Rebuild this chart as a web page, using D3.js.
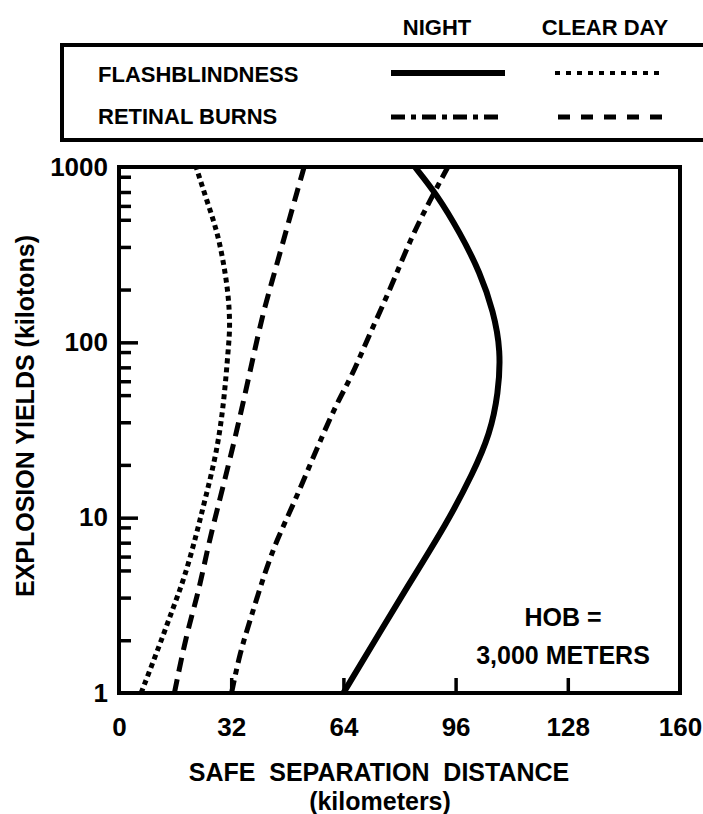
<!DOCTYPE html>
<head>
  <meta charset="utf-8">
  <script src="https://d3js.org/d3.v7.min.js"></script>
  <style>
    body { margin:0; background:#fff; }
    text { font-family: "Liberation Sans", Arial, sans-serif; font-weight: bold; fill: #000; }
  </style>
</head>

<body>
  <svg width="703" height="814" id="vis"></svg>
<script>
  // [yield kt, distance km]
  var flashNight = [[1,64],[2.4,75.4],[4.6,84],[9.3,93.5],[18,101],[30,105.8],[51,108.2],[90,108.9],[150,106.8],[250,103],[420,97.3],[700,90.6],[1000,84.4]];
  var flashDay = [[1,6.3],[1.9,11.7],[2.9,15],[4.6,18.8],[8.2,22.2],[12.6,24.5],[24,28],[47,30],[94,31.2],[123,31.7],[190,31.2],[294,29.7],[436,27.9],[647,25],[1000,22]];
  var burnsNight = [[1,32.1],[1.7,34.5],[2.6,37.4],[4.6,41.2],[7.5,45],[11.8,49.7],[25,56.5],[45,62.1],[64,66.4],[113,71.6],[199,77.3],[383,83],[646,88.7],[1000,93.8]];
  var burnsDay = [[1,15.8],[2.2,19.3],[3.7,22.6],[6.3,25],[10,27.4],[30,33.5],[103,39.3],[160,41.6],[236,44],[350,46.4],[567,49.3],[1000,52.8]];

  var xLabels = [0, 32, 64, 96, 128, 160];
  var xTicks = [32, 64, 96, 128];
  var yLabels = [1, 10, 100, 1000];
  var yMajor = [10, 100];
  var minorSteps = [2, 3.5, 5, 6, 7.2, 8.8];
  var decades = [1, 10, 100];

  var svg = d3.select("#vis");
  var x = d3.scaleLinear().domain([0, 160]).range([119, 680]);
  var y = d3.scaleLog().domain([1, 1000]).range([693, 167]);

  var yMinor = [];
  decades.forEach(function(d) { minorSteps.forEach(function(m) { yMinor.push(d * m); }); });

  // ticks inside the frame
  svg.append("g").attr("class", "ticks")
    .attr("transform", "translate(" + x(0) + ",0)")
    .call(d3.axisRight(y).tickValues(yMinor).tickSize(12).tickFormat(""));
  svg.append("g").attr("class", "ticks")
    .attr("transform", "translate(" + x(0) + ",0)")
    .call(d3.axisRight(y).tickValues(yMajor).tickSize(19).tickFormat(""));
  svg.append("g").attr("class", "ticks")
    .attr("transform", "translate(0," + y(1) + ")")
    .call(d3.axisTop(x).tickValues(xTicks).tickSize(15).tickFormat(""));
  svg.selectAll(".ticks .domain").remove();
  svg.selectAll(".ticks line").attr("stroke", "#000").attr("stroke-width", 3.5);

  // frame
  svg.append("rect")
    .attr("x", x(0)).attr("y", y(1000))
    .attr("width", x(160) - x(0)).attr("height", y(1) - y(1000))
    .attr("fill", "none").attr("stroke", "#000").attr("stroke-width", 4);

  // tick labels
  var yl = svg.append("g").attr("transform", "translate(" + x(0) + ",0)")
    .call(d3.axisLeft(y).tickValues(yLabels).tickFormat(d3.format("d")).tickSize(0).tickPadding(11));
  var xl = svg.append("g").attr("transform", "translate(0," + y(1) + ")")
    .call(d3.axisBottom(x).tickValues(xLabels).tickFormat(d3.format("d")).tickSize(0).tickPadding(25));
  [yl, xl].forEach(function(g) {
    g.select(".domain").remove();
    g.selectAll("text").attr("font-family", "Liberation Sans, Arial, sans-serif")
      .attr("font-size", 26).attr("font-weight", "bold");
  });

  var line = d3.line()
    .x(function(d) { return x(d[1]); })
    .y(function(d) { return y(d[0]); })
    .curve(d3.curveBasis);

  var series = [
    {data: flashNight, dash: null},
    {data: flashDay, dash: "5,4"},
    {data: burnsNight, dash: "13,6,6,6"},
    {data: burnsDay, dash: "14,8"}
  ];
  svg.selectAll(".curve").data(series).enter().append("path")
    .attr("class", "curve")
    .attr("d", function(s) { return line(s.data); })
    .attr("fill", "none").attr("stroke", "#000")
    .attr("stroke-width", function(s) { return s.dash ? 5 : 6; })
    .attr("stroke-dasharray", function(s) { return s.dash; });

  // legend
  svg.append("rect").attr("x", 62).attr("y", 45).attr("width", 700).attr("height", 95)
    .attr("fill", "none").attr("stroke", "#000").attr("stroke-width", 4);
  svg.append("text").attr("x", 437).attr("y", 35).attr("text-anchor", "middle").attr("font-size", 22).text("NIGHT");
  svg.append("text").attr("x", 605).attr("y", 35).attr("text-anchor", "middle").attr("font-size", 22).text("CLEAR DAY");
  svg.append("text").attr("x", 98).attr("y", 82).attr("font-size", 22).text("FLASHBLINDNESS");
  svg.append("text").attr("x", 98).attr("y", 124).attr("font-size", 22).text("RETINAL BURNS");
  var leg = [
    {x1: 391, x2: 505, y: 73, dash: null, w: 6},
    {x1: 555, x2: 665, y: 73, dash: "5,6", w: 4},
    {x1: 391, x2: 500, y: 117, dash: "14,6,5,6", w: 5},
    {x1: 558, x2: 662, y: 117, dash: "12,11", w: 5}
  ];
  svg.selectAll(".leg").data(leg).enter().append("line")
    .attr("x1", function(d) { return d.x1; }).attr("x2", function(d) { return d.x2; })
    .attr("y1", function(d) { return d.y; }).attr("y2", function(d) { return d.y; })
    .attr("stroke", "#000").attr("stroke-width", function(d) { return d.w; })
    .attr("stroke-dasharray", function(d) { return d.dash; });

  // annotation and titles
  svg.append("text").attr("x", 563).attr("y", 626).attr("text-anchor", "middle").attr("font-size", 25).text("HOB =");
  svg.append("text").attr("x", 563).attr("y", 664).attr("text-anchor", "middle").attr("font-size", 25).text("3,000 METERS");
  svg.append("text").attr("x", 379).attr("y", 781).attr("text-anchor", "middle").attr("font-size", 25)
    .style("white-space", "pre").text("SAFE  SEPARATION  DISTANCE");
  svg.append("text").attr("x", 380).attr("y", 810).attr("text-anchor", "middle").attr("font-size", 25).text("(kilometers)");
  svg.append("text").attr("transform", "translate(34,416) rotate(-90)").attr("text-anchor", "middle")
    .attr("font-size", 25).text("EXPLOSION YIELDS (kilotons)");
</script>
</body>
